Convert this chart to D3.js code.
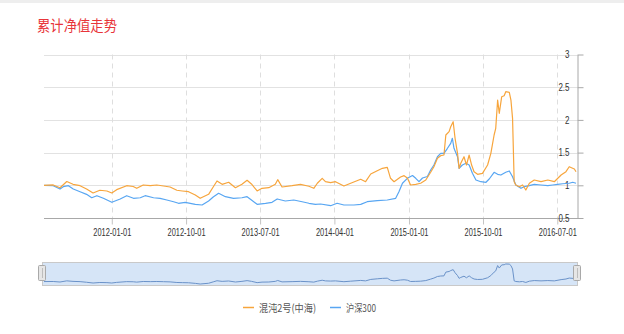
<!DOCTYPE html>
<html>
<head>
<meta charset="utf-8">
<script src="https://cdn.jsdelivr.net/npm/d3@7"></script>
<style>
  html, body { margin: 0; padding: 0; background: #fff; }
  svg { display: block; }
</style>
</head>
<body>
<svg id="chart" width="624" height="334"></svg>
<script>
// Cumulative NAV of the fund and of the CSI 300 index, both rebased to 1.
const fundName = "混沌2号(中海)";
const indexName = "沪深300";
const titleText = "累计净值走势";

const fundSeries = [
  ["2011-04-26",1.000],["2011-05-30",1.005],["2011-06-24",0.963],["2011-07-19",1.058],
  ["2011-08-11",1.015],["2011-09-06",0.994],["2011-09-30",0.943],["2011-10-24",0.882],
  ["2011-11-18",0.924],["2011-12-14",0.913],["2012-01-01",0.882],["2012-01-19",0.933],
  ["2012-02-25",0.994],["2012-03-20",0.982],["2012-04-02",0.954],["2012-04-26",1.005],
  ["2012-05-22",0.994],["2012-06-15",1.005],["2012-07-10",0.989],["2012-08-03",0.974],
  ["2012-08-28",0.924],["2012-09-17",0.913],["2012-10-10",0.902],["2012-11-04",0.852],
  ["2012-11-22",0.801],["2012-12-23",0.862],["2013-01-09",0.974],["2013-01-23",1.066],
  ["2013-02-11",1.015],["2013-03-07",1.046],["2013-04-01",0.963],["2013-04-25",1.015],
  ["2013-05-14",1.076],["2013-05-30",1.020],["2013-06-20",0.913],["2013-07-08",0.954],
  ["2013-08-02",0.963],["2013-08-26",1.015],["2013-09-04",1.086],["2013-09-20",0.974],
  ["2013-10-27",0.994],["2013-11-27",1.015],["2013-12-28",0.985],["2014-01-15",0.954],
  ["2014-01-28",1.031],["2014-02-15",1.107],["2014-02-27",1.055],["2014-03-18",1.040],
  ["2014-04-05",1.055],["2014-05-06",0.989],["2014-05-31",1.031],["2014-07-07",1.092],
  ["2014-07-25",1.055],["2014-08-13",1.173],["2014-09-06",1.223],["2014-09-25",1.260],
  ["2014-10-13",1.275],["2014-10-25",1.107],["2014-11-07",1.055],["2014-12-01",1.127],
  ["2014-12-14",1.147],["2014-12-26",1.112],["2015-01-07",1.005],["2015-01-26",1.015],
  ["2015-02-13",1.031],["2015-03-04",1.081],["2015-03-22",1.199],["2015-04-03",1.284],
  ["2015-04-16",1.413],["2015-04-28",1.453],["2015-05-10",1.463],["2015-05-17",1.769],
  ["2015-05-29",1.820],["2015-06-04",1.896],["2015-06-13",1.972],["2015-06-20",1.719],
  ["2015-06-29",1.489],["2015-07-05",1.260],["2015-07-11",1.336],["2015-07-23",1.437],
  ["2015-08-01",1.310],["2015-08-11",1.463],["2015-08-20",1.310],["2015-08-29",1.208],
  ["2015-09-11",1.168],["2015-09-29",1.183],["2015-10-18",1.310],["2015-10-30",1.489],
  ["2015-11-11",1.769],["2015-11-17",1.872],["2015-11-24",2.304],["2015-11-30",2.101],
  ["2015-12-09",2.355],["2015-12-18",2.370],["2015-12-24",2.431],["2016-01-06",2.422],
  ["2016-01-12",2.304],["2016-01-18",2.024],["2016-01-24",1.055],["2016-01-30",1.005],
  ["2016-02-12",0.979],["2016-02-24",1.005],["2016-03-07",0.928],["2016-03-20",1.031],
  ["2016-04-07",1.081],["2016-05-02",1.055],["2016-05-27",1.081],["2016-06-20",1.055],
  ["2016-07-15",1.157],["2016-08-02",1.208],["2016-08-14",1.284],["2016-09-02",1.249],
  ["2016-09-08",1.208]
];

const indexSeries = [
  ["2011-04-26",1.000],["2011-05-30",0.994],["2011-06-24",0.943],["2011-07-06",0.979],
  ["2011-07-25",0.994],["2011-08-12",0.943],["2011-09-06",0.902],["2011-09-30",0.862],
  ["2011-10-19",0.810],["2011-11-07",0.841],["2011-12-01",0.801],["2012-01-01",0.740],
  ["2012-02-01",0.791],["2012-02-25",0.841],["2012-03-21",0.801],["2012-04-15",0.810],
  ["2012-05-03",0.841],["2012-06-03",0.810],["2012-06-27",0.801],["2012-07-22",0.775],
  ["2012-08-16",0.749],["2012-09-03",0.725],["2012-09-28",0.740],["2012-11-04",0.709],
  ["2012-11-29",0.699],["2012-12-23",0.760],["2013-01-09",0.821],["2013-01-29",0.878],
  ["2013-02-23",0.826],["2013-03-25",0.801],["2013-04-25",0.810],["2013-05-14",0.826],
  ["2013-05-30",0.775],["2013-06-20",0.709],["2013-07-21",0.725],["2013-08-14",0.740],
  ["2013-09-02",0.791],["2013-10-02",0.760],["2013-11-02",0.775],["2013-12-03",0.749],
  ["2013-12-28",0.725],["2014-01-21",0.709],["2014-02-09",0.714],["2014-03-18",0.688],
  ["2014-04-11",0.725],["2014-05-06",0.699],["2014-06-12",0.699],["2014-07-07",0.709],
  ["2014-07-31",0.749],["2014-09-06",0.765],["2014-10-13",0.775],["2014-11-13",0.801],
  ["2014-11-25",0.902],["2014-12-08",1.031],["2014-12-26",1.107],["2015-01-14",1.150],
  ["2015-01-26",1.107],["2015-02-07",1.055],["2015-02-20",1.112],["2015-03-10",1.135],
  ["2015-03-22",1.234],["2015-04-03",1.310],["2015-04-16",1.437],["2015-04-28",1.489],
  ["2015-05-10",1.489],["2015-05-23",1.566],["2015-06-04",1.642],["2015-06-10",1.719],
  ["2015-06-16",1.566],["2015-06-29",1.437],["2015-07-05",1.260],["2015-07-17",1.310],
  ["2015-07-30",1.336],["2015-08-11",1.310],["2015-08-23",1.183],["2015-09-05",1.081],
  ["2015-09-23",1.055],["2015-10-12",1.046],["2015-10-24",1.096],["2015-11-11",1.199],
  ["2015-11-24",1.168],["2015-12-06",1.157],["2015-12-24",1.199],["2016-01-06",1.219],
  ["2016-01-18",1.131],["2016-01-30",1.005],["2016-02-18",0.954],["2016-03-01",0.979],
  ["2016-03-20",0.994],["2016-04-07",1.015],["2016-05-02",1.005],["2016-05-27",0.994],
  ["2016-06-14",1.005],["2016-07-02",1.015],["2016-07-21",1.024],["2016-08-14",1.031],
  ["2016-08-27",1.046],["2016-09-08",1.031]
];

const xTickLabels = ["2012-01-01","2012-10-01","2013-07-01","2014-04-01","2015-01-01","2015-10-01","2016-07-01"];
const yTickValues = [0.5, 1, 1.5, 2, 2.5, 3];

const parse = d3.timeParse("%Y-%m-%d");
const fund = fundSeries.map(([d, v]) => ({ date: parse(d), value: v }));
const index = indexSeries.map(([d, v]) => ({ date: parse(d), value: v }));

const ORANGE = "#f7a53c";
const BLUE = "#58a6f2";

const svg = d3.select("#chart");

// thin grey strip along the top edge of the panel
svg.append("rect").attr("x", 0).attr("y", 0).attr("width", 624).attr("height", 3).attr("fill", "#eeeeee");

svg.append("text")
  .attr("x", 37).attr("y", 30.5)
  .attr("fill", "#e8353a")
  .attr("font-family", "'Noto Sans CJK SC', sans-serif")
  .attr("font-size", 15)
  .attr("textLength", 80).attr("lengthAdjust", "spacingAndGlyphs")
  .text(titleText);

const plot = { left: 44, right: 576, top: 54.5, bottom: 218 };
const axisX = 577;

const allDates = fund.map(d => d.date);
const x = d3.scaleTime()
  .domain(d3.extent(allDates))
  .range([plot.left, plot.right]);
const y = d3.scaleLinear().domain([0.5, 3]).range([plot.bottom, plot.top]);

// horizontal grid
svg.append("g")
  .selectAll("line")
  .data(yTickValues.filter(v => v > 0.5))
  .join("line")
  .attr("x1", plot.left).attr("x2", axisX)
  .attr("y1", d => Math.round(y(d)) + 0.5).attr("y2", d => Math.round(y(d)) + 0.5)
  .attr("stroke", "#e2e2e2").attr("stroke-width", 1);

const xTicks = xTickLabels.map(parse);

// vertical dashed grid
svg.append("g")
  .selectAll("line")
  .data(xTicks)
  .join("line")
  .attr("x1", d => Math.round(x(d)) + 0.5).attr("x2", d => Math.round(x(d)) + 0.5)
  .attr("y1", plot.top).attr("y2", plot.bottom)
  .attr("stroke", "#dedede").attr("stroke-dasharray", "5,4");

// bottom axis
const xAxis = d3.axisBottom(x)
  .tickValues(xTicks)
  .tickFormat(d3.timeFormat("%Y-%m-%d"))
  .tickSize(6).tickSizeOuter(0);
const gx = svg.append("g")
  .attr("transform", `translate(0,${plot.bottom + 0.5})`)
  .call(xAxis);
gx.select(".domain").remove();
gx.selectAll(".tick line").attr("stroke", "#c4c4c4");
gx.selectAll(".tick text")
  .attr("y", 10)
  .attr("fill", "#333")
  .attr("font-family", "'Liberation Sans', Arial, sans-serif")
  .attr("font-size", 10)
  .attr("textLength", 38).attr("lengthAdjust", "spacingAndGlyphs");
svg.append("line")
  .attr("x1", plot.left).attr("x2", 583)
  .attr("y1", plot.bottom + 0.5).attr("y2", plot.bottom + 0.5)
  .attr("stroke", "#a8a8a8");

// right value axis, labels sit inside the plot
const yAxis = d3.axisRight(y)
  .tickValues(yTickValues)
  .tickFormat(d => String(d))
  .tickSize(6).tickSizeOuter(0);
const gy = svg.append("g")
  .attr("transform", `translate(${axisX + 0.5},0)`)
  .call(yAxis);
gy.select(".domain").attr("stroke", "#a8a8a8");
gy.selectAll(".tick line").attr("stroke", "#a8a8a8");
gy.selectAll(".tick text")
  .attr("x", -8)
  .attr("text-anchor", "end")
  .attr("fill", "#333")
  .attr("font-family", "'Liberation Sans', Arial, sans-serif")
  .attr("font-size", 10.5)
  .each(function () {
    const w = this.getComputedTextLength();
    d3.select(this).attr("textLength", w * 0.76).attr("lengthAdjust", "spacingAndGlyphs");
  });

const line = d3.line().x(d => x(d.date)).y(d => y(d.value));

svg.append("path").datum(index)
  .attr("d", line).attr("fill", "none")
  .attr("stroke", BLUE).attr("stroke-width", 1.2).attr("stroke-linejoin", "round");
svg.append("path").datum(fund)
  .attr("d", line).attr("fill", "none")
  .attr("stroke", ORANGE).attr("stroke-width", 1.2).attr("stroke-linejoin", "round");

// range slider overview
const zoomBox = { left: 42, right: 577, top: 262, bottom: 285 };
svg.append("rect")
  .attr("x", zoomBox.left + 0.5).attr("y", zoomBox.top + 0.5)
  .attr("width", zoomBox.right - zoomBox.left).attr("height", zoomBox.bottom - zoomBox.top)
  .attr("fill", "#d6e5f7").attr("stroke", "#c9c9c9");

const yMini = d3.scaleLinear()
  .domain(d3.extent(fund, d => d.value))
  .range([zoomBox.bottom - 1, zoomBox.top + 2]);
const miniLine = d3.line().x(d => x(d.date)).y(d => yMini(d.value));
svg.append("path").datum(fund)
  .attr("d", miniLine).attr("fill", "none")
  .attr("stroke", "#6a92c9").attr("stroke-width", 1);

// slider handles
[zoomBox.left, zoomBox.right].forEach(hx => {
  svg.append("rect")
    .attr("x", hx - 3.5).attr("y", 265.5)
    .attr("width", 7).attr("height", 15)
    .attr("fill", "#e6e6e6").attr("stroke", "#a9a9a9").attr("rx", 1);
  svg.append("line")
    .attr("x1", hx + 0.5).attr("x2", hx + 0.5)
    .attr("y1", 268).attr("y2", 278)
    .attr("stroke", "#bdbdbd");
});

// legend
const legend = [
  { name: fundName, color: ORANGE, x: 243, w: 57 },
  { name: indexName, color: BLUE, x: 330, w: 30 }
];
const lg = svg.append("g");
legend.forEach(item => {
  lg.append("line")
    .attr("x1", item.x).attr("x2", item.x + 11)
    .attr("y1", 307.5).attr("y2", 307.5)
    .attr("stroke", item.color).attr("stroke-width", 1.5);
  lg.append("text")
    .attr("x", item.x + 16).attr("y", 311.5)
    .attr("fill", "#555")
    .attr("font-family", "'Noto Sans CJK SC', sans-serif")
    .attr("font-size", 10.5)
    .attr("textLength", item.w).attr("lengthAdjust", "spacingAndGlyphs")
    .text(item.name);
});
</script>
</body>
</html>
